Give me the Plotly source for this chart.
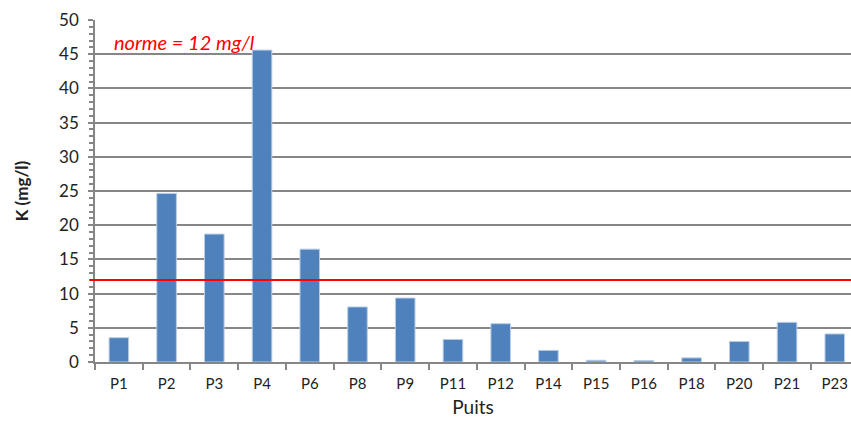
import plotly.graph_objects as go

# Potassium concentration per well (mg/l)
puits = ["P1", "P2", "P3", "P4", "P6", "P8", "P9", "P11", "P12",
         "P14", "P15", "P16", "P18", "P20", "P21", "P23"]
k_mgl = [3.55, 24.65, 18.7, 45.6, 16.5, 8.05, 9.35, 3.3, 5.6,
         1.7, 0.25, 0.2, 0.6, 3.0, 5.8, 4.1]
norme = 12  # regulatory limit, mg/l

FONT = "Lato, 'Open Sans', sans-serif"
GRID = "#868686"

fig = go.Figure()
fig.add_trace(go.Bar(
    x=puits, y=k_mgl,
    marker=dict(color="#4F81BD", line=dict(color="#B9CDE5", width=1)),
    width=0.41,
))

# Limit line across the plot area
fig.add_shape(type="line", xref="paper", yref="y",
              x0=-0.007, x1=1, y0=norme, y1=norme,
              line=dict(color="#FF0000", width=2), layer="above")
fig.add_annotation(xref="x", yref="y", x=-0.14, y=46.8,
                   text=f"<i>norme = {norme} mg/l</i>", showarrow=False,
                   xanchor="left", yanchor="middle",
                   font=dict(family=FONT, size=20, color="#FF0000"))

fig.update_layout(
    width=851, height=426,
    margin=dict(l=95, r=0, t=20, b=64),
    paper_bgcolor="white", plot_bgcolor="white",
    showlegend=False,
    font=dict(family=FONT, size=14, color="#222222"),
    xaxis=dict(
        range=[-0.5, 15.34],
        showline=True, linecolor=GRID, linewidth=1.5,
        ticks="outside", tickson="boundaries", ticklen=6,
        tickcolor=GRID, tickwidth=1.5,
        tickfont=dict(size=15), ticklabelstandoff=7,
        title=dict(text="Puits", font=dict(size=19), standoff=10),
        showgrid=False,
    ),
    yaxis=dict(
        range=[0, 50], dtick=5,
        showline=True, linecolor=GRID, linewidth=1.5,
        ticks="outside", ticklen=5, tickcolor=GRID, tickwidth=1.5,
        tickfont=dict(size=17), ticklabelstandoff=6,
        showgrid=True, gridcolor=GRID, gridwidth=1.5,
        zeroline=False,
        minor=dict(dtick=1, ticks="outside", ticklen=4,
                   tickcolor=GRID, tickwidth=1.5, showgrid=False),
        title=dict(text="<b>K (mg/l)</b>", font=dict(size=17), standoff=26),
    ),
)

fig.write_html("out.html")
